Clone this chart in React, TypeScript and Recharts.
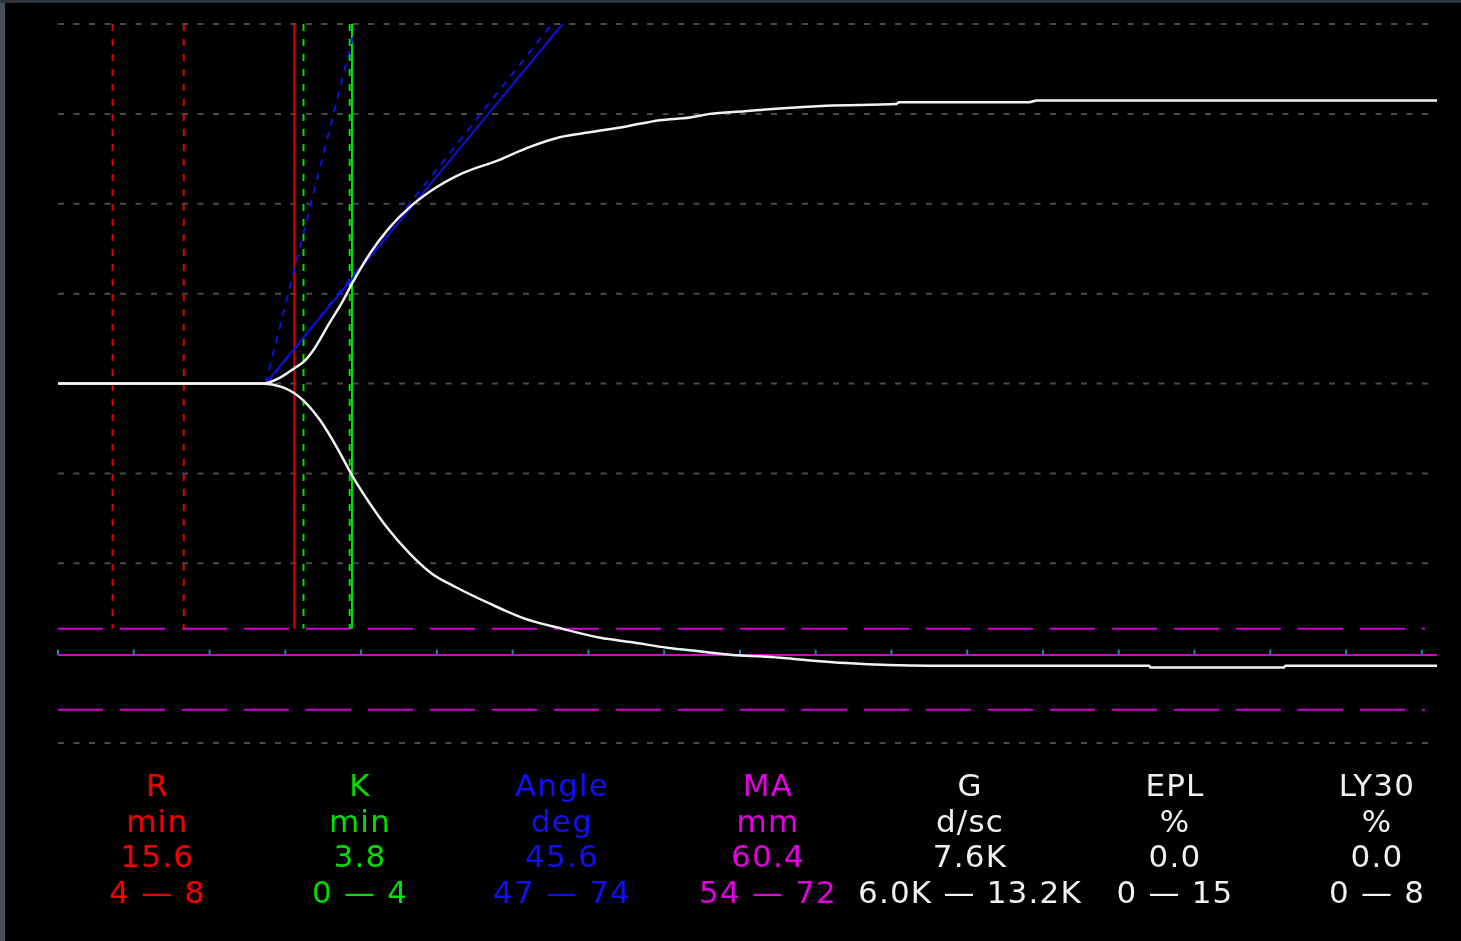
import { LineChart, Line, XAxis, YAxis, ReferenceLine } from 'recharts';

// time axis (minutes) and amplitude (mm)
const timeTicks = [0, 5, 10, 15, 20, 25, 30, 35, 40, 45, 50, 55, 60, 65, 70, 75, 80, 85, 90];
const gridValues = [-40, -20, -10, 0, 10, 20, 30, 40];
const gridEnd = 90.8;

const upperTime = [0, 13.5, 14.6, 15.6, 16.2, 16.8, 17.9, 18.8, 19.4, 20.6, 21.9, 23.2, 24.5, 26.7, 29.0, 31.1, 33.1, 35.3, 37.5, 39.7, 41.7, 43.0, 45.3, 47.6, 50.7, 55.3, 55.5, 64.1, 64.6, 91];
const upperAmp = [0, 0, 0.6, 1.7, 2.4, 3.6, 6.7, 9.2, 11.1, 14.5, 17.4, 19.6, 21.3, 23.4, 24.8, 26.3, 27.4, 28.0, 28.6, 29.3, 29.6, 30.0, 30.3, 30.6, 30.9, 31.1, 31.3, 31.3, 31.5, 31.5];

const lowerTime = [0, 13.5, 14.8, 16.2, 17.3, 18.4, 19.5, 20.6, 21.7, 23.2, 24.7, 26.3, 28.5, 30.7, 33.3, 35.8, 37.9, 40.2, 42.3, 44.5, 46.8, 48.9, 52.0, 57.5, 72.0, 72.1, 80.9, 81.0, 91];
const lowerAmp = [0, 0, -0.4, -1.9, -4.1, -7.1, -10.5, -13.4, -16.0, -18.9, -21.2, -22.7, -24.5, -26.1, -27.3, -28.3, -28.8, -29.4, -29.8, -30.2, -30.4, -30.7, -31.1, -31.4, -31.4, -31.6, -31.6, -31.4, -31.4];

// marker lines
const rRange = [3.6, 8.3];
const rValue = 15.6;
const kRange = [16.2, 19.25];
const kValue = 19.4;
const markerTop = 40;
const markerBottom = -27.3;

// angle lines: [t0, a0, t1, a1]
const angleLine = [13.8, 0.2, 33.3, 40];
const angleLow = [13.8, 0, 32.6, 40];
const angleHigh = [13.7, 0, 19.6, 39.5];

// MA half-amplitude lines
const maValue = -30.2;
const maRange = [-27.3, -36.3];
const maDashEnd = 90.2;

// parameter table
const paramNames = ['R', 'K', 'Angle', 'MA', 'G', 'EPL', 'LY30'];
const paramUnits = ['min', 'min', 'deg', 'mm', 'd/sc', '%', '%'];
const paramValues = ['15.6', '3.8', '45.6', '60.4', '7.6K', '0.0', '0.0'];
const paramRanges = ['4 — 8', '0 — 4', '47 — 74', '54 — 72', '6.0K — 13.2K', '0 — 15', '0 — 8'];
const paramColors = ['#f00000', '#00e000', '#1010f0', '#e000e0', '#f0f0f0', '#f0f0f0', '#f0f0f0'];
const paramCenters = [157, 360, 562, 768, 970, 1175, 1377];

const upperData = upperTime.map((t, i) => ({ t, amp: upperAmp[i] }));
const lowerData = lowerTime.map((t, i) => ({ t, amp: lowerAmp[i] }));

const seg = (l: number[]) => [
  { x: l[0], y: l[1] },
  { x: l[2], y: l[3] },
];

export default function App() {
  return (
    <div style={{ position: 'fixed', left: 0, top: 0, width: 1461, height: 941, background: '#2e353c' }}>
      <div style={{ position: 'absolute', left: 0, top: 3, width: 5, bottom: 0, background: '#46515b' }} />
      <div style={{ position: 'absolute', left: 5, top: 3, right: 0, bottom: 0, background: '#000' }} />
      <div style={{ position: 'absolute', left: 0, top: 0 }}>
        <LineChart width={1461} height={941} margin={{ top: 24, right: 24, bottom: 198, left: 58 }}>
          <XAxis type="number" dataKey="t" domain={[0, 91]} ticks={timeTicks} hide allowDuplicatedCategory={false} />
          <YAxis type="number" domain={[-40, 40]} hide width={0} />

          {gridValues.map((y) => (
            <ReferenceLine key={'g' + y} segment={[{ x: 0, y }, { x: gridEnd, y }]} stroke="#4a4a4a" strokeWidth={2} strokeDasharray="6 9.5" />
          ))}

          {maRange.map((y) => (
            <ReferenceLine key={'ma' + y} segment={[{ x: 0, y }, { x: maDashEnd, y }]} stroke="#d000d0" strokeWidth={2} strokeDasharray="45 17" />
          ))}
          <ReferenceLine y={maValue} stroke="#d000d0" strokeWidth={2} />
          {timeTicks.map((t) => (
            <ReferenceLine key={'tk' + t} segment={[{ x: t, y: maValue }, { x: t, y: maValue + 0.6 }]} stroke="#1b7fb8" strokeWidth={2} />
          ))}

          {rRange.map((x) => (
            <ReferenceLine key={'r' + x} segment={[{ x, y: markerTop }, { x, y: markerBottom }]} stroke="#e00000" strokeWidth={2} strokeDasharray="7 8" />
          ))}
          <ReferenceLine segment={[{ x: rValue, y: markerTop }, { x: rValue, y: markerBottom }]} stroke="#e00000" strokeWidth={2} />
          <ReferenceLine segment={[{ x: kValue, y: markerTop }, { x: kValue, y: markerBottom }]} stroke="#00e000" strokeWidth={2} />
          {kRange.map((x) => (
            <ReferenceLine key={'k' + x} segment={[{ x, y: markerTop }, { x, y: markerBottom }]} stroke="#00e000" strokeWidth={2} strokeDasharray="7 8" />
          ))}

          <ReferenceLine segment={seg(angleLine)} stroke="#1010e0" strokeWidth={2} />
          <ReferenceLine segment={seg(angleLow)} stroke="#1010e0" strokeWidth={2} strokeDasharray="7 7" />
          <ReferenceLine segment={seg(angleHigh)} stroke="#1010e0" strokeWidth={2} strokeDasharray="7 7" />

          <Line data={upperData} dataKey="amp" type="monotone" stroke="#f2f2f2" strokeWidth={2.5} dot={false} isAnimationActive={false} />
          <Line data={lowerData} dataKey="amp" type="monotone" stroke="#f2f2f2" strokeWidth={2.5} dot={false} isAnimationActive={false} />
        </LineChart>
      </div>

      {paramNames.map((name, i) => (
        <div
          key={name}
          style={{
            position: 'absolute',
            left: paramCenters[i] - 140,
            width: 280,
            top: 768,
            textAlign: 'center',
            color: paramColors[i],
            fontFamily: '"DejaVu Sans", sans-serif',
            fontSize: 31,
            letterSpacing: '1.2px',
            lineHeight: '35.5px',
            whiteSpace: 'nowrap',
          }}
        >
          <div>{name}</div>
          <div>{paramUnits[i]}</div>
          <div>{paramValues[i]}</div>
          <div>{paramRanges[i]}</div>
        </div>
      ))}
    </div>
  );
}
